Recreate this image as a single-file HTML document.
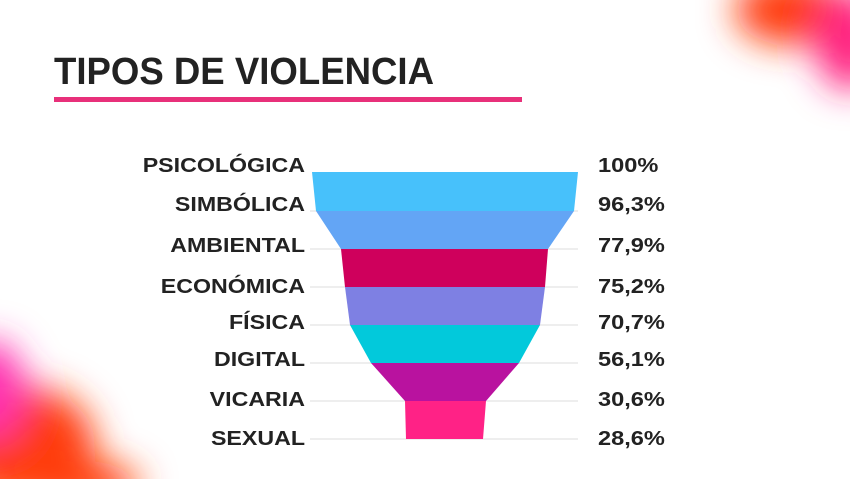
<!DOCTYPE html>
<html><head><meta charset="utf-8"><style>
html,body{margin:0;padding:0;background:#fff;width:850px;height:479px;overflow:hidden}
svg{display:block}
text{font-family:"Liberation Sans",sans-serif;font-weight:bold;fill:#222}
</style></head><body>
<svg width="850" height="479" viewBox="0 0 850 479" xmlns="http://www.w3.org/2000/svg">
<defs>
<filter id="b" x="-50%" y="-50%" width="200%" height="200%"><feGaussianBlur stdDeviation="18"/></filter>
</defs>
<g filter="url(#b)">
<ellipse cx="790" cy="10" rx="55" ry="35" fill="#ff3a10"/>
<ellipse cx="850" cy="40" rx="35" ry="50" fill="#ff2080"/>
<ellipse cx="20" cy="445" rx="75" ry="60" fill="#ff3a10"/>
<ellipse cx="-10" cy="390" rx="35" ry="50" fill="#ff30b0"/>
<ellipse cx="70" cy="485" rx="70" ry="25" fill="#ff4010"/>
</g>
<text x="54" y="84" font-size="38" textLength="380" lengthAdjust="spacingAndGlyphs">TIPOS DE VIOLENCIA</text>
<rect x="54" y="97" width="468" height="5" fill="#e8307a"/>
<g stroke="#dddddd" stroke-width="1">
<line x1="310" y1="211" x2="578" y2="211"/><line x1="310" y1="249" x2="578" y2="249"/>
<line x1="310" y1="287" x2="578" y2="287"/><line x1="310" y1="325" x2="578" y2="325"/>
<line x1="310" y1="363" x2="578" y2="363"/><line x1="310" y1="401" x2="578" y2="401"/>
<line x1="310" y1="439" x2="578" y2="439"/>
</g>
<polygon points="312,172 578,172 574,211 316,211" fill="#47c1fb"/>
<polygon points="316,211 574,211 548,249 341,249" fill="#63a5f5"/>
<polygon points="341,249 548,249 545,287 345,287" fill="#cf005c"/>
<polygon points="345,287 545,287 540,325 350,325" fill="#7e80e3"/>
<polygon points="350,325 540,325 519,363 371,363" fill="#02c9db"/>
<polygon points="371,363 519,363 486,401 405,401" fill="#b9129f"/>
<polygon points="405,401 486,401 483,439 406,439" fill="#ff2286"/>
<g font-size="20" text-anchor="end" transform="translate(305,0) scale(1.16,1) translate(-305,0)">
<text x="305" y="172">PSICOLÓGICA</text>
<text x="305" y="211">SIMBÓLICA</text>
<text x="305" y="252">AMBIENTAL</text>
<text x="305" y="293">ECONÓMICA</text>
<text x="305" y="329">FÍSICA</text>
<text x="305" y="366">DIGITAL</text>
<text x="305" y="406">VICARIA</text>
<text x="305" y="445">SEXUAL</text>
</g>
<g font-size="20" transform="translate(598,0) scale(1.18,1) translate(-598,0)">
<text x="598" y="172">100%</text>
<text x="598" y="211">96,3%</text>
<text x="598" y="252">77,9%</text>
<text x="598" y="293">75,2%</text>
<text x="598" y="329">70,7%</text>
<text x="598" y="366">56,1%</text>
<text x="598" y="406">30,6%</text>
<text x="598" y="445">28,6%</text>
</g>
</svg>
</body></html>
